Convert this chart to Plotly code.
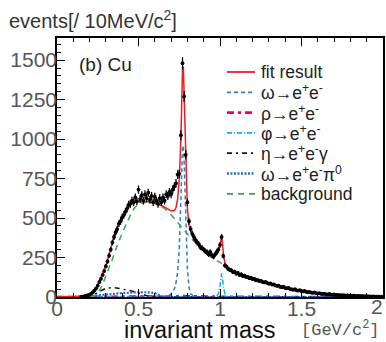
import plotly.graph_objects as go

# ---------------- data ----------------
# measured spectrum, 10 MeV bins from 0.15 to 2.00 GeV/c^2
mass = [round(0.15 + 0.01 * i, 2) for i in range(186)]
counts = [
    2, 3, 5, 8, 12, 15, 22, 30, 42, 55,            # 0.15-0.24
    72, 95, 115, 140, 165, 195, 225, 262, 300, 345,  # 0.25-0.34
    380, 410, 430, 465, 480, 505, 520, 540, 560, 585,  # 0.35-0.44
    590, 610, 600, 630, 605, 680, 620, 645, 610, 650,  # 0.45-0.54
    625, 660, 615, 640, 600, 635, 610, 590, 625, 600,  # 0.55-0.64
    630, 610, 650, 640, 665, 650, 680, 700, 720, 775,  # 0.65-0.74
    780, 1025, 1480, 1270, 900, 600, 480, 430, 400, 380,  # 0.75-0.84
    360, 345, 335, 315, 310, 300, 290, 285, 270, 285,  # 0.85-0.94
    265, 255, 270, 285, 300, 330, 380, 260, 200, 192,  # 0.95-1.04
    178, 172, 168, 158, 160, 148, 152, 140, 143, 133,  # 1.05-1.14
    135, 126, 128, 119, 122, 113, 116, 106, 109, 101,  # 1.15-1.24
    103, 96, 92, 95, 88, 84, 86, 78, 80, 73,        # 1.25-1.34
    70, 72, 64, 62, 65, 57, 55, 58, 50, 48,          # 1.35-1.44
    46, 49, 42, 40, 43, 37, 35, 38, 32, 30,          # 1.45-1.54
    33, 28, 26, 29, 24, 22, 25, 20, 19, 22,          # 1.55-1.64
    17, 16, 19, 15, 14, 16, 12, 13, 11, 12,          # 1.65-1.74
    10, 11, 9, 10, 8, 9, 7, 8, 7, 6,                 # 1.75-1.84
    7, 5, 6, 5, 4, 5, 4, 4, 3, 4,                    # 1.85-1.94
    3, 3, 2, 3, 2, 2,                                # 1.95-2.00
]

# fit result
fit_x = [0.0, 0.16, 0.18, 0.20, 0.22, 0.24, 0.26, 0.28, 0.30, 0.32, 0.34, 0.36, 0.38,
         0.40, 0.42, 0.44, 0.46, 0.48, 0.50, 0.55, 0.60, 0.65, 0.68, 0.70, 0.72, 0.73,
         0.74, 0.75, 0.76, 0.765, 0.77, 0.775, 0.78, 0.785, 0.79, 0.80, 0.81, 0.82,
         0.84, 0.86, 0.88, 0.90, 0.92, 0.94, 0.96, 0.98, 0.99, 1.00, 1.005, 1.01,
         1.015, 1.02, 1.03, 1.04, 1.06, 1.10, 1.15, 1.20, 1.25, 1.30, 1.35, 1.40,
         1.45, 1.50, 1.55, 1.60, 1.70, 1.80, 1.90, 2.00]
fit_y = [0, 0, 3, 12, 28, 58, 100, 150, 200, 270, 350, 420, 470,
         510, 545, 575, 592, 600, 605, 605, 595, 575, 555, 545, 548, 565,
         620, 740, 1000, 1250, 1440, 1460, 1300, 1080, 860, 560, 450, 415,
         375, 340, 315, 295, 278, 265, 258, 268, 290, 330, 365, 378,
         345, 280, 215, 190, 170, 150, 130, 115, 100, 87, 72, 58,
         47, 38, 30, 24, 15, 10, 6, 4]

# omega -> e+e-
om_x = [0.0, 0.68, 0.70, 0.72, 0.73, 0.74, 0.75, 0.76, 0.765, 0.77, 0.775, 0.78,
        0.785, 0.79, 0.80, 0.81, 0.82, 0.84, 0.86, 2.0]
om_y = [0, 5, 20, 50, 90, 160, 300, 560, 780, 940, 960, 860,
        680, 450, 180, 60, 20, 5, 0, 0]

# rho -> e+e-
rho_x = [0.0, 0.40, 0.60, 0.70, 0.77, 0.85, 1.00, 1.20, 2.0]
rho_y = [0, 0, 2, 4, 6, 4, 2, 1, 0]

# phi -> e+e-
phi_x = [0.0, 0.97, 0.98, 0.99, 1.00, 1.005, 1.01, 1.015, 1.02, 1.03, 1.04, 1.05, 2.0]
phi_y = [0, 0, 5, 20, 70, 120, 150, 125, 70, 20, 5, 0, 0]

# eta -> e+e-gamma
eta_x = [0.0, 0.20, 0.25, 0.30, 0.35, 0.40, 0.45, 0.50, 0.55, 0.60, 2.0]
eta_y = [0, 0, 30, 55, 60, 50, 40, 25, 8, 0, 0]

# omega -> e+e-pi0
omd_x = [0.0, 0.20, 0.30, 0.40, 0.50, 0.55, 0.60, 0.63, 0.65, 2.0]
omd_y = [0, 5, 15, 25, 30, 30, 25, 12, 0, 0]

# background
bg_x = [0.0, 0.20, 0.22, 0.24, 0.26, 0.28, 0.30, 0.32, 0.34, 0.36, 0.38, 0.40, 0.42,
        0.44, 0.46, 0.48, 0.50, 0.52, 0.55, 0.58, 0.60, 0.63, 0.66, 0.70, 0.74, 0.78,
        0.82, 0.86, 0.90, 0.95, 1.00, 1.05, 1.10, 1.15, 1.20, 1.25, 1.30, 1.40,
        1.50, 1.60, 1.70, 1.80, 1.90, 2.00]
bg_y = [0, 0, 3, 15, 40, 80, 130, 185, 240, 300, 355, 405, 450,
        500, 540, 570, 585, 595, 600, 598, 592, 580, 560, 520, 475, 425,
        375, 330, 290, 250, 220, 185, 155, 132, 115, 100, 87, 62,
        40, 25, 15, 9, 5, 3]

x_ticks = [0, 0.5, 1, 1.5, 2]
x_tick_text = ["0", "0.5", "1", "1.5", "2"]
y_ticks = [0, 250, 500, 750, 1000, 1250, 1500]

# ---------------- figure ----------------
W, H = 386, 342
L, R, T, B = 57, 3, 38, 45
PW, PH = W - L - R, H - T - B


def px_x(px):
    return (px - L) / PW


def px_y(py):
    return (H - B - py) / PH


fig = go.Figure()

curves = [
    (fit_x, fit_y, "fit result", "#ee1c25", "solid", 1.5),
    (om_x, om_y, "ω→e<sup>+</sup>e<sup>-</sup>", "#2f7fc6", "4px,3px", 1.5),
    (rho_x, rho_y, "ρ→e<sup>+</sup>e<sup>-</sup>", "#e6007e", "7px,4px,3px,4px", 2.5),
    (phi_x, phi_y, "φ→e<sup>+</sup>e<sup>-</sup>", "#1aa7e6", "5px,2px,1px,2px", 1.5),
    (eta_x, eta_y, "η→e<sup>+</sup>e<sup>-</sup>γ", "#111111", "5px,4px,2px,4px", 1.5),
    (omd_x, omd_y, "ω→e<sup>+</sup>e<sup>-</sup>π<sup>0</sup>", "#1f6fc0", "2px,1.5px", 2.2),
    (bg_x, bg_y, "background", "#3aa655", "6px,5px", 1.5),
]
# components under the fit
for x, y, name, col, dash, w in curves[1:] + curves[:1]:
    fig.add_trace(go.Scatter(x=x, y=y, mode="lines", name=name, showlegend=False,
                             line=dict(color=col, dash=dash, width=w)))

fig.add_trace(go.Scatter(
    x=mass, y=counts, mode="markers", showlegend=False,
    marker=dict(color="black", size=3.8),
    error_y=dict(type="sqrt", color="black", thickness=1.3, width=0),
))

# hand-placed legend (matches the reference spacing)
shapes = []
annotations = []
for i, (x, y, name, col, dash, w) in enumerate(curves):
    py = 72 + 20.3 * i
    shapes.append(dict(type="line", xref="paper", yref="paper",
                       x0=px_x(227), x1=px_x(255), y0=px_y(py), y1=px_y(py),
                       line=dict(color=col, dash=dash, width=w + 0.3)))
    annotations.append(dict(text=name, xref="paper", yref="paper",
                            x=px_x(259), y=px_y(py), xanchor="left", yanchor="middle",
                            showarrow=False, font=dict(size=17.5, color="#222")))

annotations += [
    dict(text="events[/ 10MeV/c<sup>2</sup>]", xref="paper", yref="paper",
         x=px_x(7), y=px_y(20), xanchor="left", yanchor="middle",
         showarrow=False, font=dict(size=20, color="#333")),
    dict(text="(b) Cu", xref="paper", yref="paper", x=px_x(77), y=px_y(64),
         xanchor="left", yanchor="middle", showarrow=False,
         font=dict(size=19, color="#222")),
    dict(text="invariant mass", xref="paper", yref="paper", x=px_x(122), y=px_y(329.5),
         xanchor="left", yanchor="middle", showarrow=False,
         font=dict(size=23.5, color="#111")),
    dict(text="[GeV/c<sup>2</sup>]", xref="paper", yref="paper", x=px_x(382), y=px_y(329),
         xanchor="right", yanchor="middle", showarrow=False,
         font=dict(size=17, color="#555", family="Liberation Mono, monospace")),
    # last x tick label, pulled in from the right edge as in the reference
    dict(text=x_tick_text[-1], xref="paper", yref="paper", x=px_x(377), y=px_y(306),
         xanchor="center", yanchor="middle", showarrow=False,
         font=dict(size=21, color="#555")),
]

fig.update_layout(
    width=W, height=H,
    margin=dict(l=L, r=R, t=T, b=B, autoexpand=False),
    paper_bgcolor="white", plot_bgcolor="white",
    font=dict(family="Liberation Sans, Arial, sans-serif", color="#333"),
    showlegend=False,
    shapes=shapes,
    annotations=annotations,
)

fig.update_xaxes(range=[0, 2], tickvals=x_ticks, ticktext=x_tick_text[:-1] + [""],
                 ticks="inside", ticklen=8, tickwidth=1.2, tickcolor="black",
                 minor=dict(dtick=0.1, ticks="inside", ticklen=4, tickcolor="black"),
                 showline=True, linecolor="black", linewidth=1.5, mirror="ticks",
                 showgrid=False, zeroline=False, ticklabelstandoff=-8,
                 tickfont=dict(size=21, color="#555"))
fig.update_yaxes(range=[0, 1640], tickvals=y_ticks,
                 ticks="inside", ticklen=8, tickwidth=1.2, tickcolor="black",
                 minor=dict(dtick=50, ticks="inside", ticklen=4, tickcolor="black"),
                 showline=True, linecolor="black", linewidth=1.5, mirror=True,
                 showgrid=False, zeroline=False, ticklabelstandoff=-6,
                 tickfont=dict(size=21, color="#555"))

fig.write_html("out.html", config={"displayModeBar": False},
               post_script="document.body.style.margin='0px';")
